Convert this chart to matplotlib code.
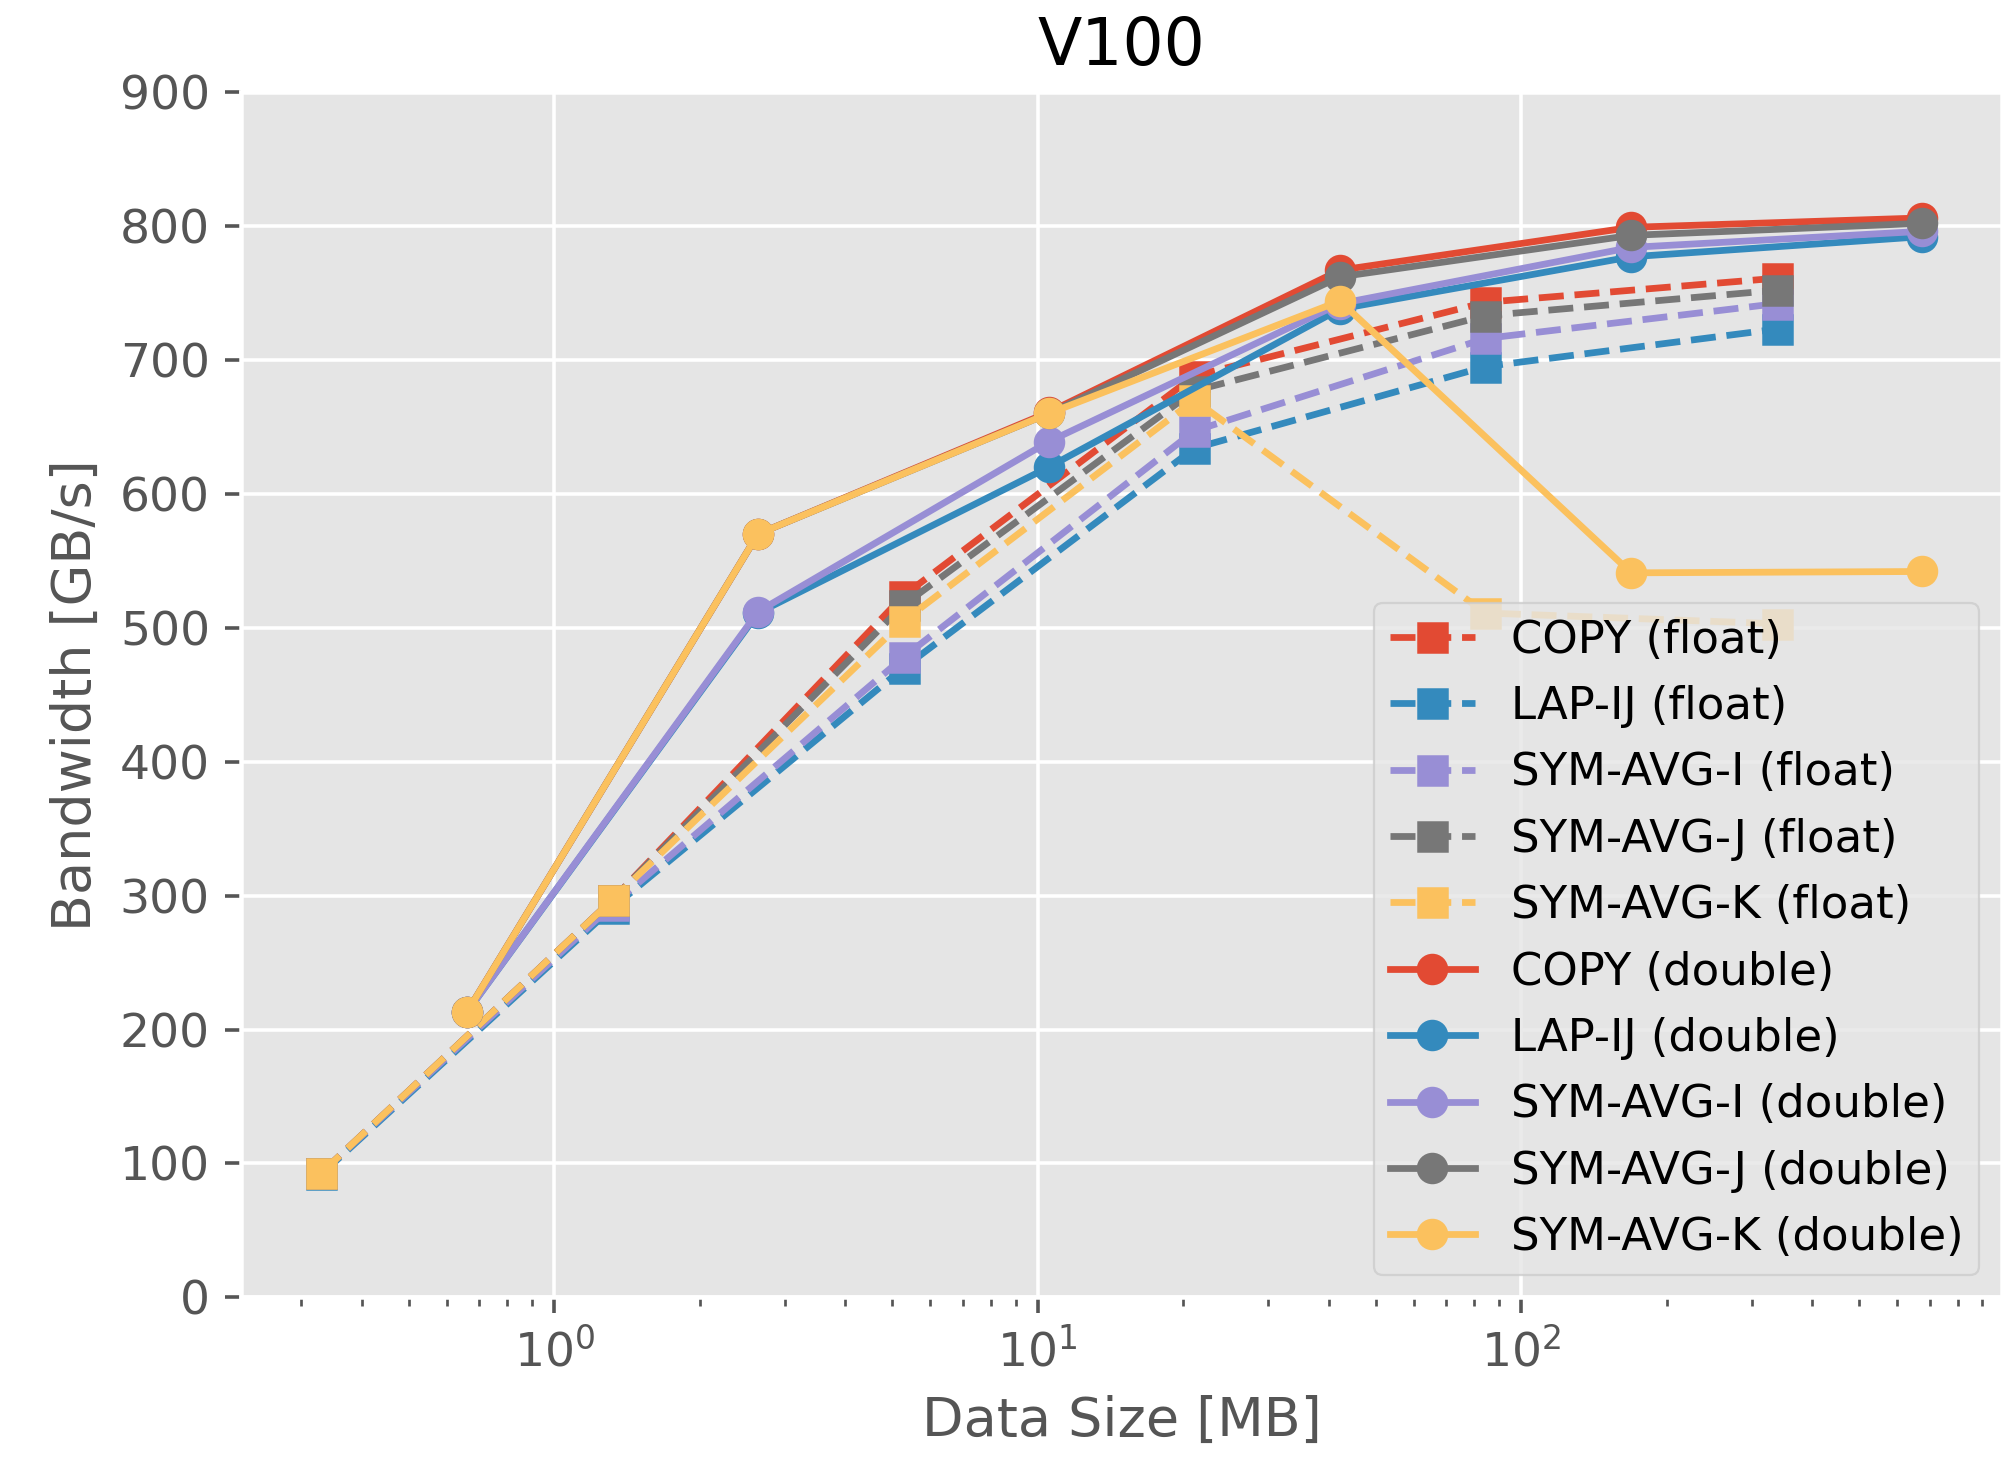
import numpy as np
import matplotlib
matplotlib.use("Agg")
import matplotlib.pyplot as plt

plt.style.use('ggplot')

kernels = ['COPY', 'LAP-IJ', 'SYM-AVG-I', 'SYM-AVG-J', 'SYM-AVG-K']
colors = ['#E24A33', '#348ABD', '#988ED5', '#777777', '#FBC15E']

# data size in MB
size_float = [0.33, 1.32, 5.28, 21.1, 84.4, 338]
size_double = [0.66, 2.64, 10.55, 42.2, 169, 675]

# bandwidth in GB/s
bw_float = {
    'COPY':      [93, 297, 524, 688, 743, 761],
    'LAP-IJ':    [92, 291, 470, 634, 695, 723],
    'SYM-AVG-I': [93, 293, 478, 647, 716, 742],
    'SYM-AVG-J': [93, 297, 517, 677, 733, 752],
    'SYM-AVG-K': [93, 297, 505, 670, 511, 503],
}
bw_double = {
    'COPY':      [213, 570, 661, 767, 799, 806],
    'LAP-IJ':    [213, 511, 620, 738, 777, 792],
    'SYM-AVG-I': [213, 512, 639, 742, 784, 796],
    'SYM-AVG-J': [213, 570, 660, 762, 793, 802],
    'SYM-AVG-K': [213, 570, 660, 744, 541, 542],
}

dpi = 324
fig = plt.figure(figsize=(2012 / dpi, 1461 / dpi), dpi=dpi)
ax = fig.add_axes([0.120, 0.112, 0.875, 0.825])

for k, c in zip(kernels, colors):
    ax.plot(size_float, bw_float[k], '--s', color=c, label=k + ' (float)')
for k, c in zip(kernels, colors):
    ax.plot(size_double, bw_double[k], '-o', color=c, label=k + ' (double)')

ax.set_xscale('log')
ax.set_ylim(0, 900)
ax.set_yticks(range(0, 901, 100))
ax.tick_params(axis='both', which='major', labelsize=10.5)
ax.set_xlabel('Data Size [MB]')
ax.set_ylabel('Bandwidth [GB/s]')
ax.set_title('V100')
ax.legend(loc='lower right', labelspacing=0.52, handlelength=1.9, borderpad=0.35)

fig.savefig('out.png', dpi=dpi)
